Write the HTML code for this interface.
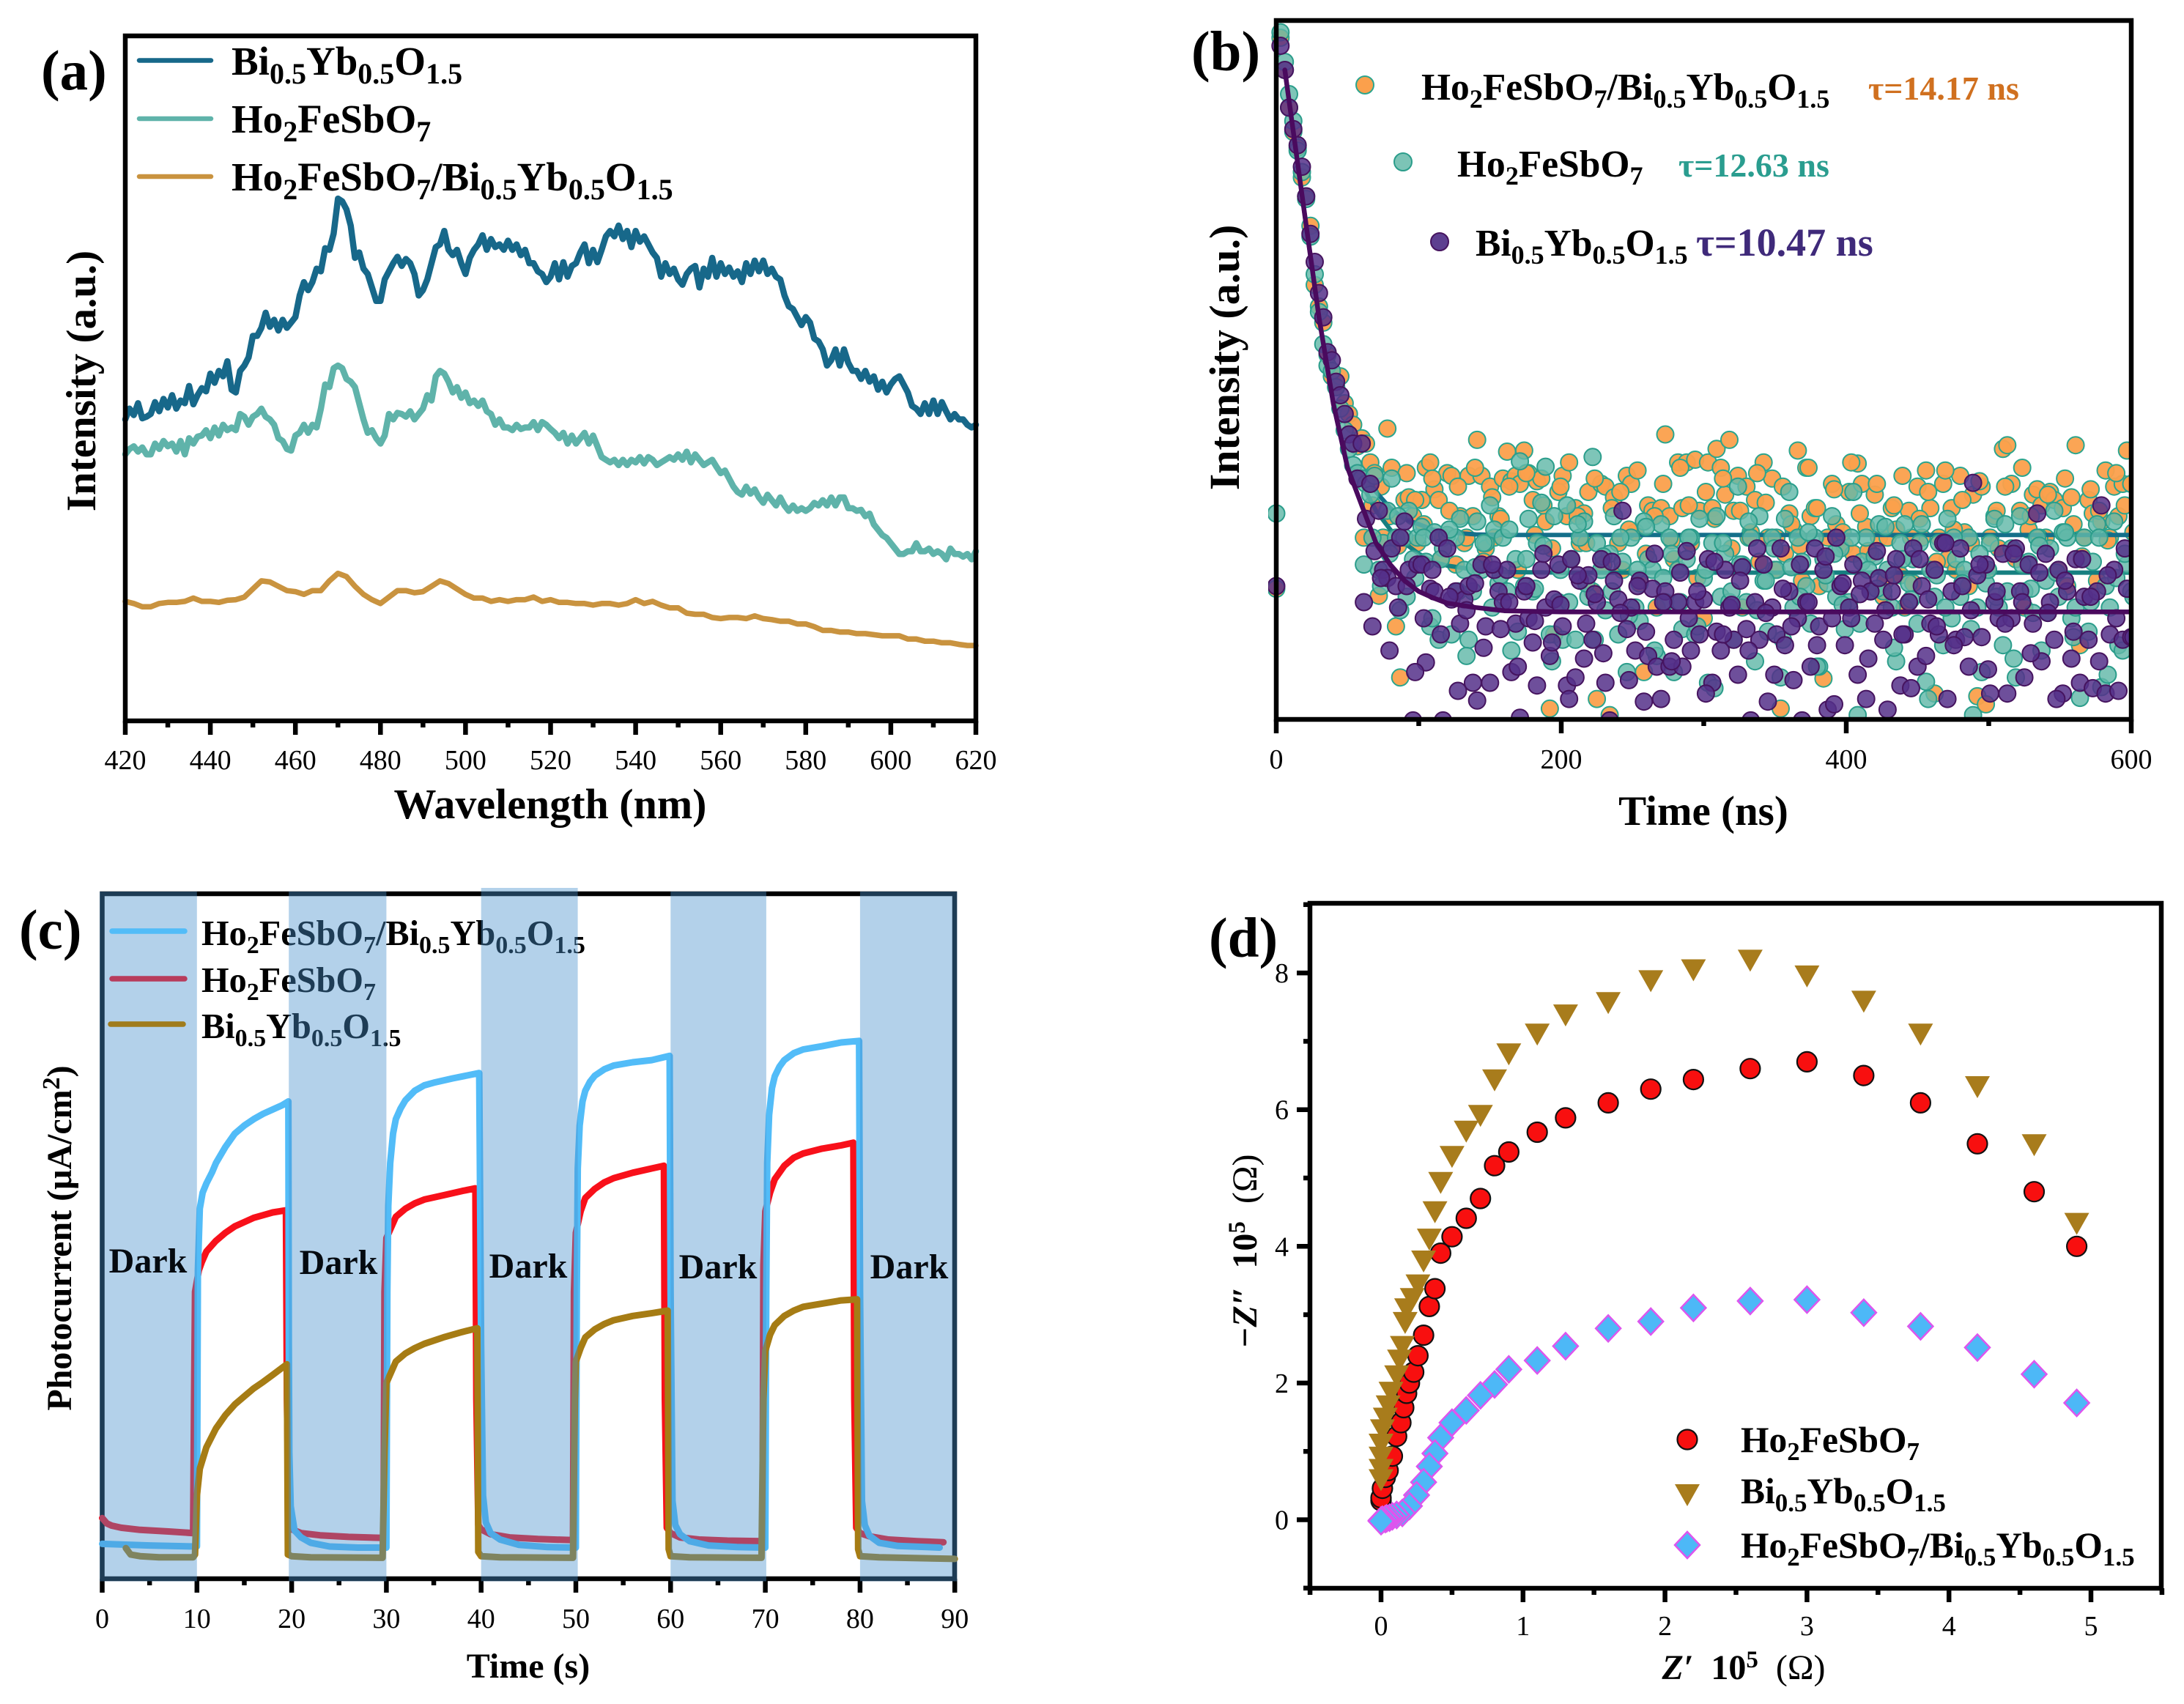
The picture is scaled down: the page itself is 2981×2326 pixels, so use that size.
<!DOCTYPE html>
<html lang="en">
<head>
<meta charset="utf-8">
<title>Four-panel materials characterisation figure</title>
<style>
html,body{margin:0;padding:0;background:#fff;}
svg{display:block;font-family:"Liberation Serif",serif;}
.b{font-weight:bold;}
</style>
</head>
<body>
<svg id="fig" xmlns="http://www.w3.org/2000/svg" width="2981" height="2326" viewBox="0 0 2981 2326">
<rect width="2981" height="2326" fill="#fff"/>
<defs>
<clipPath id="clipB"><rect x="1731" y="28" width="1178" height="954"/></clipPath>
</defs>

<g id="panelA"></g>
<g class="b" fill="#000">
<text x="56" y="122" font-size="77">(a)</text>
<text transform="translate(130,520) rotate(-90)" text-anchor="middle" font-size="57">Intensity (a.u.)</text>
<text x="751" y="1117" text-anchor="middle" font-size="58">Wavelength (nm)</text>
<g font-size="55">
<text x="316" y="102">Bi<tspan dy="12" font-size="40">0.5</tspan><tspan dy="-12">Yb</tspan><tspan dy="12" font-size="40">0.5</tspan><tspan dy="-12">O</tspan><tspan dy="12" font-size="40">1.5</tspan></text>
<text x="316" y="181">Ho<tspan dy="12" font-size="40">2</tspan><tspan dy="-12">FeSbO</tspan><tspan dy="12" font-size="40">7</tspan></text>
<text x="316" y="260">Ho<tspan dy="12" font-size="40">2</tspan><tspan dy="-12">FeSbO</tspan><tspan dy="12" font-size="40">7</tspan><tspan dy="-12">/Bi</tspan><tspan dy="12" font-size="40">0.5</tspan><tspan dy="-12">Yb</tspan><tspan dy="12" font-size="40">0.5</tspan><tspan dy="-12">O</tspan><tspan dy="12" font-size="40">1.5</tspan></text>
</g>
</g>

<g id="panelB"></g>
<g class="b" fill="#000">
<text x="1626" y="96" font-size="77">(b)</text>
<text transform="translate(1691,488) rotate(-90)" text-anchor="middle" font-size="58">Intensity (a.u.)</text>
<text x="2325" y="1126" text-anchor="middle" font-size="57">Time (ns)</text>
<g font-size="51.5">
<text x="1940" y="136">Ho<tspan dy="11" font-size="36">2</tspan><tspan dy="-11">FeSbO</tspan><tspan dy="11" font-size="36">7</tspan><tspan dy="-11">/Bi</tspan><tspan dy="11" font-size="36">0.5</tspan><tspan dy="-11">Yb</tspan><tspan dy="11" font-size="36">0.5</tspan><tspan dy="-11">O</tspan><tspan dy="11" font-size="36">1.5</tspan></text>
<text x="1989" y="241">Ho<tspan dy="11" font-size="36">2</tspan><tspan dy="-11">FeSbO</tspan><tspan dy="11" font-size="36">7</tspan></text>
<text x="2014" y="349">Bi<tspan dy="11" font-size="36">0.5</tspan><tspan dy="-11">Yb</tspan><tspan dy="11" font-size="36">0.5</tspan><tspan dy="-11">O</tspan><tspan dy="11" font-size="36">1.5</tspan></text>
</g>
<text x="2550" y="136" font-size="46" fill="#d0701f">τ=14.17 ns</text>
<text x="2291" y="241" font-size="46" fill="#2a9d8f">τ=12.63 ns</text>
<text x="2315" y="349" font-size="54" fill="#3f2a7a">τ=10.47 ns</text>
</g>

<g id="panelC"></g>
<g class="b" fill="#000">
<text x="26" y="1295" font-size="77">(c)</text>
<text transform="translate(97,1690) rotate(-90)" text-anchor="middle" font-size="48">Photocurrent (μA/cm<tspan dy="-16" font-size="34">2</tspan><tspan dy="16">)</tspan></text>
<text x="721" y="2290" text-anchor="middle" font-size="48">Time (s)</text>
</g>

<g id="panelD"></g>
<g class="b" fill="#000">
<text x="1650" y="1306" font-size="77">(d)</text>
<text transform="translate(1715,1708) rotate(-90)" text-anchor="middle" font-size="48"><tspan font-style="italic">−Z″</tspan>&#160;&#160;10<tspan dy="-16" font-size="33">5</tspan><tspan dy="16" font-weight="normal">&#160;&#160;(Ω)</tspan></text>
<text x="2380" y="2292" text-anchor="middle" font-size="48"><tspan font-style="italic">Z′</tspan>&#160;&#160;10<tspan dy="-16" font-size="33">5</tspan><tspan dy="16" font-weight="normal">&#160;&#160;(Ω)</tspan></text>
<g font-size="49.5">
<text x="2376" y="1982">Ho<tspan dy="11" font-size="35">2</tspan><tspan dy="-11">FeSbO</tspan><tspan dy="11" font-size="35">7</tspan></text>
<text x="2376" y="2052">Bi<tspan dy="11" font-size="35">0.5</tspan><tspan dy="-11">Yb</tspan><tspan dy="11" font-size="35">0.5</tspan><tspan dy="-11">O</tspan><tspan dy="11" font-size="35">1.5</tspan></text>
<text x="2376" y="2126">Ho<tspan dy="11" font-size="35">2</tspan><tspan dy="-11">FeSbO</tspan><tspan dy="11" font-size="35">7</tspan><tspan dy="-11">/Bi</tspan><tspan dy="11" font-size="35">0.5</tspan><tspan dy="-11">Yb</tspan><tspan dy="11" font-size="35">0.5</tspan><tspan dy="-11">O</tspan><tspan dy="11" font-size="35">1.5</tspan></text>
</g>
</g>
</svg>

<script>
/* ---------- Panel (a) data: 420–620 nm ---------- */
const aStartNm = 420;
const aBiStepNm = 1;
const aBi = [780,760,772,750,778,775,770,748,765,742,758,735,760,745,750,718,752,735,722,728,695,712,690,700,672,725,730,690,680,665,625,625,610,582,608,595,615,595,610,600,590,550,525,540,525,500,505,462,465,435,370,375,390,420,480,470,500,510,535,560,560,520,505,490,478,495,482,490,510,550,540,520,490,460,455,430,465,475,465,490,510,480,465,455,438,465,445,460,455,465,448,465,455,475,465,490,490,505,510,525,515,490,520,488,515,495,490,470,455,490,465,488,465,440,430,440,420,445,430,460,430,450,440,455,470,480,515,490,510,500,520,530,510,500,495,535,500,515,480,515,490,510,498,515,505,525,490,510,485,505,485,510,500,515,520,550,570,575,590,605,590,600,630,635,650,680,670,650,680,650,675,690,690,705,690,710,700,725,710,730,715,705,700,715,730,755,760,770,750,770,745,770,748,765,780,770,780,780,790,795,790];
const aHo = [845,835,830,840,832,845,845,825,835,820,830,825,840,820,845,815,825,812,810,800,815,795,810,790,800,795,800,770,775,790,775,770,760,775,780,790,815,820,835,838,810,805,790,805,790,795,760,715,720,685,680,685,705,710,720,750,780,805,800,815,825,810,770,780,768,770,775,765,780,770,760,735,745,700,690,695,710,730,720,740,730,750,745,755,745,765,770,790,780,795,795,800,790,798,795,795,785,800,785,790,798,805,815,805,825,810,825,815,805,825,810,830,850,855,860,855,865,855,865,855,860,850,862,850,855,865,860,855,850,855,845,855,840,860,845,855,865,860,855,868,880,875,890,905,915,920,905,918,910,925,935,920,930,940,925,940,950,940,950,945,950,945,935,940,930,940,925,940,925,925,945,945,950,948,960,955,975,985,995,1000,1010,1020,1030,1030,1025,1025,1010,1025,1025,1020,1030,1025,1030,1040,1020,1030,1030,1035,1030,1040,1025];
const aCompositeStepNm = 2;
const aComposite = [1118,1122,1128,1128,1122,1120,1120,1118,1112,1118,1118,1120,1116,1115,1110,1095,1080,1082,1090,1098,1100,1105,1098,1098,1080,1066,1072,1090,1105,1115,1122,1110,1098,1098,1102,1100,1090,1080,1085,1095,1105,1112,1112,1118,1115,1118,1115,1115,1110,1118,1115,1120,1120,1122,1122,1125,1122,1122,1125,1122,1115,1122,1118,1125,1130,1130,1140,1142,1142,1148,1150,1148,1148,1150,1145,1150,1152,1155,1155,1160,1160,1165,1172,1172,1175,1175,1178,1178,1180,1182,1182,1182,1188,1188,1192,1192,1195,1195,1198,1200,1200];
const aTicks = [420,440,460,480,500,520,540,560,580,600,620];
const aMinorTicks = [430,450,470,490,510,530,550,570,590,610];

/* ---------- Panel (b) data: samples every 3 ns from 0 to 600 ns ---------- */
const bStepNs = 3;
const bComposite = [1095,70,130,200,245,275,330,365,420,530,570,600,660,700,720,700,750,770,790,830,815,825,860,880,1108,1000,797,870,1165,1260,
930,925,960,1010,930,870,860,910,930,1000,880,885,1050,960,1010,885,960,818,885,1020,905,1000,960,890,840,895,885,900,838,880,930,895,890,970,1318,1180,915,885,960,1040,945,1010,955,915,1100,1300,900,905,1330,925,1010,1060,885,900,990,1085,1250,940,950,1130,945,808,960,1040,860,945,860,1010,855,950,1150,860,945,835,870,920,818,950,885,1130,905,990,930,1045,860,1000,890,1000,1318,1030,955,985,838,1080,870,960,945,1090,1262,1000,900,975,1000,1015,915,1030,862,900,980,1030,920,1000,1110,1000,945,985,1070,1130,950,1085,905,1000,875,945,1290,1000,900,1040,945,1060,885,990,1090,920,1295,905,1310,1000,960,1020,835,828,900,1040,950,1130,985,920,910,940,1000,915,930,1060,945,1090,925,828,1200,1000,930,955,1080,970,875,1000,905,960,900,838,900];
const bHo = [955,60,115,175,225,280,320,370,440,510,580,640,680,690,720,760,800,835,865,880,890,900,920,885,1060,1010,950,890,1000,1135,1000,950,1040,1000,980,1045,1165,990,1190,1020,995,1180,1000,965,1060,1190,1100,970,1060,1010,940,985,1085,1000,1100,1210,1040,858,1090,965,1100,1010,935,868,1180,960,1120,1190,940,1040,1190,1000,970,1110,850,1010,1060,1135,1030,960,1180,1045,1250,1000,1130,1155,970,1040,1060,1220,975,1120,1000,1250,1060,1170,1040,1000,1180,965,1075,1270,1010,960,1110,1030,1120,1190,905,1050,1120,1000,1230,960,1080,1175,1000,1060,1260,965,915,1130,1000,1045,1090,1160,1000,1240,1040,1085,960,1110,1020,1170,1120,915,1330,1045,1000,1100,1035,975,1100,1060,1130,1230,1010,975,1085,1040,1160,975,1268,1060,1110,1010,1200,965,1150,1040,1110,1060,1000,1330,1130,1250,1085,1010,965,1130,1200,1100,1020,1260,960,1100,1045,1140,1000,1210,1080,1020,950,1110,990,1000,1150,1130,1298,1000,1175,1045,975,1278,1090,1130,970,1200,1210,1050,1100];
const bBi = [1090,85,130,200,240,270,310,365,435,487,545,590,655,670,710,735,770,808,825,890,825,965,900,1025,950,1060,1075,1020,1090,1000,970,1060,1340,1050,1050,1232,1095,1100,1000,1340,1020,1115,1100,1160,1115,1090,1270,1303,1050,1165,1270,1060,1100,1120,1060,1250,1160,1335,1100,1150,1195,1275,1060,1130,1220,1115,1050,1165,1275,1040,1260,1080,1225,1070,1190,1120,1040,1270,1340,1080,1115,950,1170,1130,1210,1080,1305,1220,1095,1240,1300,1100,1240,1190,1120,1240,1025,1210,1120,1180,1115,1040,1270,1175,1210,1060,1130,1190,1255,1055,1170,1340,1120,1190,1050,1305,1130,1180,1020,1200,1100,1265,1150,1340,1120,1240,1020,1165,1060,1320,1150,1000,1090,1200,1130,1050,1255,1080,1300,1100,1160,1075,1190,1320,1100,1040,1275,1180,1120,1020,1240,1090,1220,1160,1060,1180,1010,1300,1100,1190,1020,1185,1240,898,1070,1185,1050,1290,1120,1150,1030,1290,1150,1020,1100,1260,1050,1160,955,1230,1030,1120,1190,1060,1290,1100,1225,1040,1270,1110,1190,1280,1100,940,1290,1180,1060,1285,1190,1095,1185];
/* additional plateau samples, every 6 ns starting at 61.5 ns */
const bExtraStartNs = 61.5;
const bExtraStepNs = 6;
const bCompositeExtra = [1000,940,905,960,1015,880,930,975,890,1040,950,905,1000,870,1045,925,965,905,1060,880,995,940,1020,905,860,960,1010,890,1050,945,915,985,875,1030,960,900,1005,870,940,1075,915,965,890,1020,950,1000,880,935,1060,905,975,1015,870,945,1035,910,990,860,955,1025,900,1080,940,885,1000,965,915,1045,875,985,930,1010,895,1060,950,905,1025,870,960,1000,920,1065,890,975,1035,910,950,1005,880,940,990];
const bHoExtra = [1050,1000,1090,1030,960,1110,1075,1000,1150,1040,985,1100,1220,1055,1010,1130,1070,985,1175,1040,1095,1015,1230,1060,1120,975,1085,1190,1035,1100,1000,1145,1060,980,1210,1075,1030,1120,1000,1165,1060,1280,1010,1100,1050,970,1135,1080,1020,1190,1055,1110,990,1240,1070,1030,1125,1000,1160,1060,1095,980,1205,1040,1115,1010,1300,1070,1130,1000,1085,1170,1030,1060,1110,975,1225,1050,1095,1015,1140,1065,990,1185,1040,1120,1000,1255,1075,1030,1110];
const bBiExtra = [1120,1165,1075,1210,1130,1090,1250,1150,1060,1180,1110,1285,1135,1085,1205,1050,1170,1120,1240,1090,1155,1030,1195,1125,1300,1070,1160,1105,1215,1045,1140,1265,1090,1175,1030,1120,1230,1065,1150,1100,1290,1045,1180,1125,1080,1210,1020,1140,1255,1095,1165,1050,1120,1200,1035,1310,1085,1150,1105,1225,1025,1135,1070,1180,1280,1040,1115,1165,1010,1200,1090,1135,1050,1245,1100,1160,1030,1120,1215,1065,1140,1300,1080,1175,1040,1110,1230,1070,1150,1020,1185];
const bFitTime = [6,20,30,40,50,60,70,80,90,100,110,120,140,160,200,300,400,500,600];
const bFitComposite = [130,400,590,750,870,880,915,945,965,975,985,990,994,995,995,995,995,995,995];
const bFitHo = [130,400,590,750,870,900,950,985,1010,1030,1045,1052,1060,1064,1065,1065,1065,1065,1065];
const bFitBi = [130,400,590,750,870,940,1010,1050,1080,1100,1112,1122,1130,1136,1138,1138,1138,1138,1138];
const bTicks = [0,200,400,600];
const bMinorTicks = [100,300,500];

/* ---------- Panel (c) data ---------- */
const cBlueTime = [0,5,9.8,10,10.1,10.3,10.6,11,11.6,12,13,14,15,16,17,18,19,19.65,19.7,19.75,19.9,20.3,21,22,24,27,30,30.1,30.2,30.4,30.7,31,31.5,32,33,34,35,37,39.8,40,40.2,40.5,41,42,44,47,50,50.1,50.2,50.4,50.7,51,51.5,52,53,54,56,58,59.9,60,60.2,60.5,61,62,64,67,70,70.1,70.2,70.4,70.7,71,71.5,72,73,74,76,78,79.9,80,80.2,80.5,81,82,84,88.4];
const cBlue = [1270,1273,1275,1275,760,645,615,598,577,560,530,505,490,478,468,460,452,445,900,1100,1200,1245,1258,1268,1275,1277,1277,800,640,560,505,478,458,443,425,415,410,402,392,900,1180,1230,1250,1262,1272,1276,1277,800,570,490,445,425,408,397,385,378,372,368,360,800,1190,1235,1252,1265,1273,1276,1277,800,560,470,420,398,380,368,355,348,342,335,332,800,1190,1235,1255,1268,1274,1277];
const cRedTime = [0,0.5,1,2,4,7,9.6,9.7,9.8,10.2,10.5,11,12,13,14,15,16,17,18,19.4,19.5,19.7,20,21,23,26,29.7,29.8,30,30.5,31,32,33,34,36,38,39.4,39.5,39.7,40,41,43,46,49.7,49.8,50,50.5,51,52,53,54,56,58,59.3,59.4,59.6,60,61,63,66,69.7,69.8,70,70.5,71,72,73,74,76,78,79.3,79.4,79.6,80,81,83,86,88.8];
const cRed = [1222,1232,1236,1240,1244,1247,1250,1000,800,760,745,725,705,690,678,670,662,657,652,648,1000,1235,1243,1250,1254,1257,1259,800,700,680,660,645,635,628,620,612,607,1000,1235,1243,1252,1258,1261,1263,800,690,650,625,608,596,588,578,570,565,1000,1240,1250,1258,1262,1264,1265,750,650,615,590,565,550,542,533,527,522,1000,1240,1250,1256,1262,1265,1267];
const cGoldTime = [2.5,3,4,6,9.6,9.8,10,10.3,11,12,13,14,15,16,17,18,19.5,19.6,20,22,29.6,29.8,30,30.5,31,32,33,34,36,38,39.6,39.7,40,42,49.7,49.9,50,50.5,51,52,53,54,56,58,59.7,59.8,60,62,69.6,69.8,70,70.5,71,72,73,74,76,78,79.7,79.8,80,82,90];
const cGold = [1278,1290,1293,1295,1295,1290,1180,1130,1090,1055,1030,1010,995,980,968,955,935,1290,1293,1295,1296,1100,970,950,930,915,905,897,885,875,868,1285,1293,1295,1296,1000,930,905,885,870,860,853,845,840,835,1280,1293,1295,1296,1000,910,880,862,845,835,828,822,816,814,1280,1293,1295,1298];
const cBandStart = [-0.27,19.7,40,60,80];
const cBandEnd = [10,30,50.2,70.1,90.25];
const cDarkLabels = ['Dark','Dark','Dark','Dark','Dark'];
const cTicks = [0,10,20,30,40,50,60,70,80,90];
const cMinorTicks = [5,15,25,35,45,55,65,75,85];

/* ---------- Panel (d) data: Nyquist plot, units of 10^5 ohm ---------- */
const dRedX = [4.9,4.6,4.2,3.8,3.4,3.0,2.6,2.2,1.9,1.6,1.3,1.1,0.9,0.8,0.7,0.6,0.5,0.42,0.38,0.34,0.3,0.26,0.23,0.2,0.18,0.16,0.14,0.11,0.08,0.05,0.03,0.01,0,0];
const dRedY = [4.0,4.8,5.5,6.1,6.5,6.7,6.6,6.44,6.3,6.1,5.88,5.67,5.38,5.18,4.7,4.41,4.14,3.9,3.38,3.12,2.7,2.4,2.16,2.0,1.85,1.64,1.42,1.22,0.93,0.72,0.62,0.46,0.32,0.28];
const dGoldX = [4.9,4.6,4.2,3.8,3.4,3.0,2.6,2.2,1.9,1.6,1.3,1.1,0.9,0.8,0.7,0.6,0.5,0.42,0.38,0.34,0.3,0.26,0.22,0.18,0.17,0.15,0.13,0.11,0.07,0.05,0.03,0.01,0,0,0,0];
const dGoldY = [4.35,5.5,6.35,7.12,7.6,7.97,8.2,8.06,7.9,7.58,7.4,7.12,6.83,6.45,5.93,5.7,5.33,4.95,4.52,4.12,3.8,3.45,3.25,3.1,2.9,2.55,2.35,2.12,1.88,1.68,1.5,1.33,1.12,0.93,0.75,0.6];
const dBlueX = [4.9,4.6,4.2,3.8,3.4,3.0,2.6,2.2,1.9,1.6,1.3,1.1,0.9,0.8,0.7,0.6,0.5,0.42,0.38,0.34,0.3,0.25,0.2,0.15,0.11,0.08,0.06,0.04,0.03,0.01,0,0];
const dBlueY = [1.71,2.13,2.52,2.83,3.03,3.22,3.2,3.1,2.9,2.8,2.54,2.33,2.2,1.98,1.82,1.6,1.42,1.2,0.97,0.78,0.55,0.36,0.2,0.1,0.07,0.05,0.03,0.02,0.01,0,-0.01,-0.02];
const dXTicks = [0,1,2,3,4,5];
const dXMinorTicks = [-0.5,0.5,1.5,2.5,3.5,4.5,5.5];
const dYTicks = [0,2,4,6,8];
const dYMinorTicks = [-1,1,3,5,7,9];

/* ---------- Axis functions ---------- */
const xA = v => 171 + (v - 420) * 5.805;
const yA = v => 47 + (v - 65) * (984 - 47) / (1340 - 65);
const xB = v => 1742 + v * 1.945;
const yB = v => 28 + (v - 38) * 0.7338;
const xC = v => 139.5 + v * 12.93;
const yC = v => 1218 + (v - 55) * 0.732;
const xD = v => 1885 + v * 193.8;
const yD = v => 2074.5 - v * 93.3;

const NS = 'http://www.w3.org/2000/svg';
function make(tag, parent) {
  const e = document.createElementNS(NS, tag);
  parent.appendChild(e);
  return e;
}
function pathFrom(xs, ys, xf, yf) {
  return xs.map((x, i) => (i ? 'L' : 'M') + xf(x).toFixed(1) + ' ' + yf(ys[i]).toFixed(1)).join(' ');
}
function drawLine(parent, d, color, w, name) {
  const p = make('path', parent);
  p.setAttribute('d', d);
  p.setAttribute('fill', 'none');
  p.setAttribute('stroke', color);
  p.setAttribute('stroke-width', w);
  p.setAttribute('stroke-linejoin', 'round');
  p.setAttribute('stroke-linecap', 'round');
  
  
  return p;
}
function drawFrame(parent, x, y, w, h, sw) {
  const r = make('rect', parent);
  r.setAttribute('x', x);
  r.setAttribute('y', y);
  r.setAttribute('width', w);
  r.setAttribute('height', h);
  r.setAttribute('fill', 'none');
  r.setAttribute('stroke', '#000');
  r.setAttribute('stroke-width', sw);
  
  
}
function drawXTicks(parent, majors, minors, xf, y0, labelY, size) {
  majors.forEach(v => {
    const l = make('line', parent);
    l.setAttribute('x1', xf(v)); l.setAttribute('x2', xf(v));
    l.setAttribute('y1', y0); l.setAttribute('y2', y0 + 19);
    l.setAttribute('stroke', '#000'); l.setAttribute('stroke-width', 6.5);
    
    
    const t = make('text', parent);
    t.setAttribute('x', xf(v)); t.setAttribute('y', labelY);
    t.setAttribute('text-anchor', 'middle'); t.setAttribute('font-size', size);
    
    
    t.textContent = v;
  });
  minors.forEach(v => {
    const l = make('line', parent);
    l.setAttribute('x1', xf(v)); l.setAttribute('x2', xf(v));
    l.setAttribute('y1', y0); l.setAttribute('y2', y0 + 9);
    l.setAttribute('stroke', '#000'); l.setAttribute('stroke-width', 6.5);
    
    
  });
}
function drawDots(parent, series, start, step, fill, stroke, opacity, name) {
  series.forEach((v, i) => {
    const c = make('circle', parent);
    c.setAttribute('cx', xB(start + i * step).toFixed(1));
    c.setAttribute('cy', yB(v).toFixed(1));
    c.setAttribute('r', 11.5);
    c.setAttribute('fill', fill);
    c.setAttribute('fill-opacity', opacity);
    c.setAttribute('stroke', stroke);
    c.setAttribute('stroke-width', 2);
    
    
  });
}
function legendStroke(parent, x1, x2, y, color, w, name) {
  const l = make('line', parent);
  l.setAttribute('x1', x1); l.setAttribute('x2', x2);
  l.setAttribute('y1', y); l.setAttribute('y2', y);
  l.setAttribute('stroke', color); l.setAttribute('stroke-width', w);
  l.setAttribute('stroke-linecap', 'round');
  
  
}

/* ---------- Panel (a) ---------- */
(function () {
  const g = document.getElementById('panelA');
  const nmFine = aBi.map((_, i) => aStartNm + i * aBiStepNm);
  const nmCoarse = aComposite.map((_, i) => aStartNm + i * aCompositeStepNm);
  drawLine(g, pathFrom(nmFine, aBi, xA, yA), '#17688a', 8.5, 'series-bi');
  drawLine(g, pathFrom(nmFine, aHo, xA, yA), '#5fb3aa', 8.5, 'series-ho');
  drawLine(g, pathFrom(nmCoarse, aComposite, xA, yA), '#c9933f', 7.5, 'series-composite');
  drawFrame(g, 171, 49, 1161, 935, 6.5);
  drawXTicks(g, aTicks, aMinorTicks, xA, 984, 1050, 38);
  legendStroke(g, 190, 288, 82.5, '#17688a', 6.5, 'legend-a-bi-line');
  legendStroke(g, 190, 288, 162, '#5fb3aa', 6.5, 'legend-a-ho-line');
  legendStroke(g, 190, 288, 241, '#c9933f', 6.5, 'legend-a-composite-line');
})();

/* ---------- Panel (b) ---------- */
(function () {
  const g = document.getElementById('panelB');
  const clip = make('g', g);
  clip.setAttribute('clip-path', 'url(#clipB)');
  
  
  const oFill = '#fba04c', oEdge = '#2ba58e', tFill = '#62b8a8', tEdge = '#2b9d8b', pFill = '#55308a', pEdge = '#46145f';
  drawDots(clip, bComposite, 0, bStepNs, oFill, oEdge, 0.95, 'point-composite');
  drawDots(clip, bCompositeExtra, bExtraStartNs, bExtraStepNs, oFill, oEdge, 0.95, 'point-composite');
  drawLine(clip, pathFrom(bFitTime, bFitComposite, xB, yB), '#146f8a', 6, 'fit-composite');
  drawLine(clip, pathFrom(bFitTime, bFitHo, xB, yB), '#167f80', 6, 'fit-ho');
  drawDots(clip, bHo, 0, bStepNs, tFill, tEdge, 0.82, 'point-ho');
  drawDots(clip, bHoExtra, bExtraStartNs, bExtraStepNs, tFill, tEdge, 0.82, 'point-ho');
  drawDots(clip, bBi, 0, bStepNs, pFill, pEdge, 0.85, 'point-bi');
  drawDots(clip, bBiExtra, bExtraStartNs, bExtraStepNs, pFill, pEdge, 0.85, 'point-bi');
  drawLine(clip, pathFrom(bFitTime, bFitBi, xB, yB), '#4a0a5e', 6.5, 'fit-bi');
  drawFrame(g, 1742, 28, 1167, 954, 6.5);
  drawXTicks(g, bTicks, bMinorTicks, xB, 982, 1049, 38);
  const lgColors = ['#fba04c', '#7cc4b6', '#5d3f90'];
  const lgEdges = ['#2ba58e', '#2b9d8b', '#46145f'];
  const lgNames = ['legend-b-composite-dot', 'legend-b-ho-dot', 'legend-b-bi-dot'];
  const lgX = [1863, 1915, 1965];
  const lgY = [116, 221, 330];
  lgColors.forEach((col, i) => {
    const c = make('circle', g);
    c.setAttribute('cx', lgX[i]);
    c.setAttribute('cy', lgY[i]);
    c.setAttribute('r', 12);
    c.setAttribute('fill', col);
    c.setAttribute('stroke', lgEdges[i]);
    c.setAttribute('stroke-width', 2);
    
    
  });
})();

/* ---------- Panel (c) ---------- */
(function () {
  const g = document.getElementById('panelC');
  drawFrame(g, 139.5, 1220, 1163.5, 935, 6.5);
  drawXTicks(g, cTicks, cMinorTicks, xC, 2155, 2222, 38);
  /* legend text sits under the translucent dark bands, as in the source */
  const lgText = make('g', g);
  lgText.setAttribute('class', 'b');
  
  
  lgText.innerHTML =
    '<text x="275" y="1290" font-size="48.3">Ho<tspan dy="11" font-size="34">2</tspan><tspan dy="-11">FeSbO</tspan><tspan dy="11" font-size="34">7</tspan><tspan dy="-11">/Bi</tspan><tspan dy="11" font-size="34">0.5</tspan><tspan dy="-11">Yb</tspan><tspan dy="11" font-size="34">0.5</tspan><tspan dy="-11">O</tspan><tspan dy="11" font-size="34">1.5</tspan></text>' +
    '<text x="275" y="1354" font-size="48.3">Ho<tspan dy="11" font-size="34">2</tspan><tspan dy="-11">FeSbO</tspan><tspan dy="11" font-size="34">7</tspan></text>' +
    '<text x="275" y="1417" font-size="48.3">Bi<tspan dy="11" font-size="34">0.5</tspan><tspan dy="-11">Yb</tspan><tspan dy="11" font-size="34">0.5</tspan><tspan dy="-11">O</tspan><tspan dy="11" font-size="34">1.5</tspan></text>';
  drawLine(g, pathFrom(cRedTime, cRed, xC, yC), '#f8101a', 9, 'series-ho');
  drawLine(g, pathFrom(cBlueTime, cBlue, xC, yC), '#52bcf8', 9, 'series-composite');
  drawLine(g, pathFrom(cGoldTime, cGold, xC, yC), '#a67c14', 9, 'series-bi');
  cBandStart.forEach((s, i) => {
    const r = make('rect', g);
    const top = i === 2 ? 1212 : 1217;
    r.setAttribute('x', xC(s).toFixed(1));
    r.setAttribute('y', top);
    r.setAttribute('width', (xC(cBandEnd[i]) - xC(s)).toFixed(1));
    r.setAttribute('height', 2158.5 - top);
    r.setAttribute('fill', 'rgb(72,145,205)');
    r.setAttribute('fill-opacity', 0.415);
    
    
  });
  const darkCx = [202, 462, 721, 980, 1241];
  const darkBase = [1737, 1739, 1744, 1745, 1745];
  cDarkLabels.forEach((s, i) => {
    const t = make('text', g);
    t.setAttribute('x', darkCx[i]);
    t.setAttribute('y', darkBase[i]);
    t.setAttribute('text-anchor', 'middle');
    t.setAttribute('font-size', 48);
    t.setAttribute('font-weight', 'bold');
    t.setAttribute('fill', '#050a10');
    
    
    t.textContent = s;
  });
  legendStroke(g, 153, 252, 1271, '#52bcf8', 7.5, 'legend-c-composite-line');
  legendStroke(g, 153, 252, 1336, '#b83c5c', 7.5, 'legend-c-ho-line');
  legendStroke(g, 151, 250, 1398, '#a07c1c', 7.5, 'legend-c-bi-line');
})();

/* ---------- Panel (d) ---------- */
(function () {
  const g = document.getElementById('panelD');
  drawFrame(g, 1788, 1233, 1162, 935, 6.5);
  drawXTicks(g, dXTicks, dXMinorTicks, xD, 2168, 2232, 38);
  dYTicks.forEach(v => {
    const l = make('line', g);
    l.setAttribute('x1', 1770); l.setAttribute('x2', 1788);
    l.setAttribute('y1', yD(v)); l.setAttribute('y2', yD(v));
    l.setAttribute('stroke', '#000'); l.setAttribute('stroke-width', 6.5);
    
    
    const t = make('text', g);
    t.setAttribute('x', 1759); t.setAttribute('y', yD(v) + 13);
    t.setAttribute('text-anchor', 'end'); t.setAttribute('font-size', 38);
    
    
    t.textContent = v;
  });
  dYMinorTicks.forEach(v => {
    const l = make('line', g);
    l.setAttribute('x1', 1779); l.setAttribute('x2', 1788);
    l.setAttribute('y1', yD(v)); l.setAttribute('y2', yD(v));
    l.setAttribute('stroke', '#000'); l.setAttribute('stroke-width', 6.5);
    
    
  });
  function tri(parent, cx, cy, name) {
    const p = make('polygon', parent);
    p.setAttribute('points', (cx - 17) + ',' + (cy - 13) + ' ' + (cx + 17) + ',' + (cy - 13) + ' ' + cx + ',' + (cy + 17));
    p.setAttribute('fill', '#a87c1c');
    
    
  }
  function dia(parent, cx, cy, name) {
    const p = make('polygon', parent);
    p.setAttribute('points', (cx - 17) + ',' + cy + ' ' + cx + ',' + (cy - 18) + ' ' + (cx + 17) + ',' + cy + ' ' + cx + ',' + (cy + 18));
    p.setAttribute('fill', '#4db8f7');
    p.setAttribute('stroke', '#dd55ee');
    p.setAttribute('stroke-width', 2.5);
    
    
  }
  function dot(parent, cx, cy, name) {
    const c = make('circle', parent);
    c.setAttribute('cx', cx);
    c.setAttribute('cy', cy);
    c.setAttribute('r', 13.5);
    c.setAttribute('fill', '#f80f0f');
    c.setAttribute('stroke', '#111');
    c.setAttribute('stroke-width', 2.2);
    
    
  }
  dRedX.slice().reverse().forEach((_, k) => {
    const i = dRedX.length - 1 - k;
    dot(g, xD(dRedX[i]).toFixed(1), yD(dRedY[i]).toFixed(1), 'point-ho');
  });
  dGoldX.forEach((x, i) => tri(g, +xD(x).toFixed(1), +yD(dGoldY[i]).toFixed(1), 'point-bi'));
  dBlueX.forEach((x, i) => dia(g, +xD(x).toFixed(1), +yD(dBlueY[i]).toFixed(1), 'point-composite'));
  dot(g, 2303, 1965, 'legend-d-ho-marker');
  tri(g, 2303, 2039, 'legend-d-bi-marker');
  dia(g, 2303, 2109, 'legend-d-composite-marker');
})();
</script>
</body>
</html>
